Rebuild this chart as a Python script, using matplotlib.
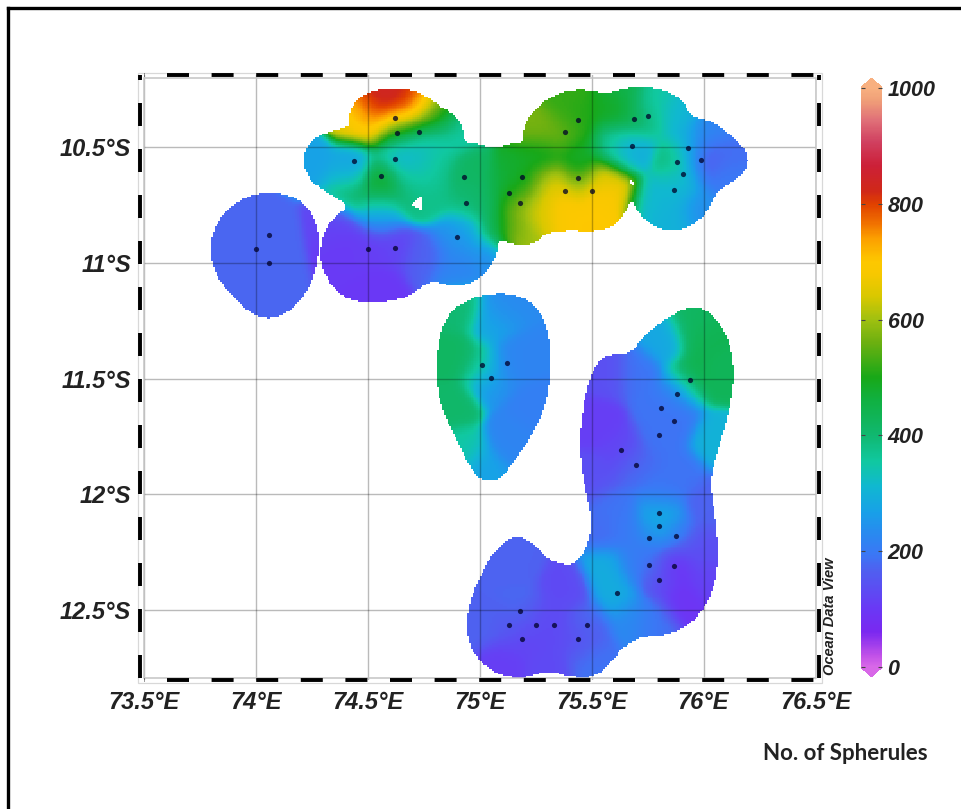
import numpy as np
import matplotlib
matplotlib.use('Agg')
import matplotlib.pyplot as plt
from matplotlib.colors import LinearSegmentedColormap
from matplotlib.lines import Line2D
from matplotlib.patches import Rectangle
from matplotlib.path import Path

plt.rcParams['lines.scale_dashes'] = False

# stations: lon, lat (deg S), no. of spherules
st_lon = [74.62, 74.63, 74.73, 74.44, 74.62, 74.56, 74.93, 74.94, 74.90, 74.50, 74.62,
          75.19, 75.13, 75.18, 75.38, 75.50, 75.44, 75.38, 75.44, 75.69, 75.75, 75.68,
          75.93, 75.88, 75.99, 75.91, 75.87, 74.00, 74.06, 74.06,
          75.01, 75.12, 75.05, 75.94, 75.88, 75.81, 75.87, 75.80, 75.63, 75.70,
          75.80, 75.80, 75.755, 75.875, 75.755, 75.87, 75.80, 75.615,
          75.18, 75.13, 75.25, 75.33, 75.48, 75.19, 75.44]
st_lat = [10.376, 10.44, 10.435, 10.56, 10.553, 10.624, 10.628, 10.743, 10.887, 10.94, 10.937,
          10.628, 10.70, 10.742, 10.69, 10.69, 10.633, 10.436, 10.382, 10.38, 10.367, 10.494,
          10.503, 10.563, 10.556, 10.615, 10.687, 10.94, 10.88, 11.00,
          11.443, 11.432, 11.497, 11.506, 11.566, 11.627, 11.684, 11.745, 11.81, 11.875,
          12.08, 12.135, 12.187, 12.18, 12.305, 12.311, 12.369, 12.427,
          12.506, 12.566, 12.563, 12.563, 12.563, 12.623, 12.626]
st_val = [830, 300, 330, 270, 300, 500, 420, 390, 230, 110, 120,
          480, 450, 620, 700, 700, 480, 560, 500, 470, 350, 280,
          290, 420, 130, 300, 310, 175, 175, 175,
          400, 220, 240, 450, 210, 190, 190, 190, 120, 180,
          270, 320, 200, 190, 190, 90, 130, 290,
          180, 160, 130, 130, 180, 120, 130]

# field values
map_lon = [74.62, 74.538, 74.70, 74.464, 74.427, 74.777, 74.82, 74.62, 74.88, 74.255,
           74.42, 74.687, 74.553, 74.553, 74.553, 74.36, 74.807, 74.73,
           74.40, 74.553, 74.747, 74.896, 75.03, 74.94, 75.06, 75.00,
           75.15, 75.195, 75.284, 75.374, 75.523, 75.612, 75.582, 75.30,
           75.269, 75.389, 75.597, 75.269, 75.448, 75.597, 75.776, 75.896, 75.657,
           76.09, 76.03, 76.09, 75.985, 75.866, 75.747, 75.657,
           74.882, 74.912, 74.882, 74.927, 75.016, 75.106, 75.18, 75.24, 75.135, 75.06,
           76.0, 76.075, 75.955, 75.82, 75.70, 75.568, 75.523, 75.523, 75.896, 76.045,
           76.015, 75.806, 75.985, 75.911, 75.777, 75.687, 75.568, 75.493, 75.30, 75.106,
           75.0, 75.15, 75.389, 76.015,
           74.55, 74.62, 74.68, 74.553, 74.688, 74.747, 74.479, 74.44, 74.524, 74.70, 74.79,
           74.80, 74.70, 75.65, 75.60, 75.55, 75.70,
           74.72, 74.40, 74.73, 74.80, 74.50, 74.67]
map_lat = [10.31, 10.311, 10.325, 10.34, 10.383, 10.326, 10.355, 10.405, 10.41, 10.556,
           10.70, 10.70, 10.72, 10.765, 10.80, 10.83, 10.585, 10.585,
           10.93, 11.103, 10.974, 11.03, 10.974, 10.858, 10.844, 10.74,
           10.844, 10.90, 10.80, 10.80, 10.80, 10.715, 10.643, 10.657,
           10.427, 10.311, 10.34, 10.542, 10.527, 10.484, 10.283, 10.354, 10.254,
           10.54, 10.427, 10.62, 10.772, 10.815, 10.743, 10.527,
           11.406, 11.204, 11.622, 11.809, 11.895, 11.204, 11.406, 11.622, 11.766, 11.262,
           11.334, 11.478, 11.262, 11.334, 11.478, 11.478, 11.694, 11.924, 11.91, 11.766,
           12.04, 11.982, 12.241, 12.457, 12.543, 12.529, 12.327, 12.702, 12.745, 12.73,
           12.558, 12.298, 12.414, 12.37,
           10.28, 10.27, 10.27, 10.355, 10.283, 10.311, 10.297, 10.355, 10.405, 10.405, 10.355,
           10.47, 10.50, 12.15, 12.05, 12.15, 12.30,
           10.63, 10.62, 10.70, 10.70, 10.37, 10.36]
map_val = [850, 850, 800, 760, 640, 600, 480, 480, 350, 270,
           420, 420, 500, 330, 170, 120, 370, 320,
           105, 100, 170, 220, 240, 280, 430, 420,
           560, 600, 640, 700, 700, 690, 650, 620,
           570, 520, 490, 480, 480, 380, 350, 310, 450,
           180, 220, 200, 240, 300, 310, 300,
           420, 400, 410, 350, 270, 230, 220, 210, 220, 280,
           440, 430, 420, 280, 190, 140, 110, 140, 190, 300,
           170, 190, 140, 90, 190, 230, 290, 190, 130, 110,
           170, 170, 130, 120,
           840, 850, 830, 840, 780, 740, 800, 650, 600, 470, 500,
           340, 310, 200, 190, 180, 210,
           340, 290, 360, 380, 790, 800]

# outlines of the gridded area
west_lon = [74.062, 74.151, 74.226, 74.270, 74.282, 74.270, 74.226, 74.151, 74.069,
            73.987, 73.913, 73.838, 73.801, 73.796, 73.823, 73.883, 73.972]
west_lat = [10.696, 10.707, 10.751, 10.823, 10.916, 11.031, 11.132, 11.211, 11.244,
            11.226, 11.161, 11.082, 10.995, 10.916, 10.83, 10.758, 10.707]
north_lon = [74.412, 74.419, 74.464, 74.538, 74.621, 74.703, 74.777, 74.837, 74.896, 74.926,
             74.926, 75.001, 75.060, 75.150, 75.195, 75.195, 75.254, 75.344, 75.433, 75.508,
             75.560, 75.642, 75.747, 75.851, 75.918, 75.940, 76.030, 76.104, 76.172, 76.201,
             76.186, 76.119, 76.052, 76.015, 75.940, 75.866, 75.776, 75.709, 75.679, 75.657,
             75.605, 75.508, 75.389, 75.299, 75.254, 75.195, 75.120, 75.083, 75.075, 75.016,
             74.926, 74.852, 74.777, 74.688, 74.583, 74.494, 74.397, 74.330, 74.292, 74.288,
             74.315, 74.367, 74.419, 74.330, 74.255, 74.218, 74.210, 74.240, 74.300, 74.412]
north_lat = [10.405, 10.340, 10.283, 10.251, 10.247, 10.254, 10.290, 10.333, 10.369, 10.419,
             10.477, 10.487, 10.506, 10.481, 10.484, 10.405, 10.326, 10.268, 10.251, 10.257,
             10.271, 10.247, 10.239, 10.261, 10.311, 10.369, 10.383, 10.434, 10.491, 10.549,
             10.607, 10.657, 10.700, 10.787, 10.844, 10.866, 10.844, 10.787, 10.722, 10.772,
             10.844, 10.866, 10.859, 10.873, 10.909, 10.928, 10.909, 10.902, 10.974, 11.060,
             11.103, 11.096, 11.075, 11.147, 11.168, 11.175, 11.154, 11.089, 11.017, 10.931,
             10.844, 10.787, 10.755, 10.703, 10.657, 10.599, 10.542, 10.477, 10.441, 10.412]
oval_lon = [75.120, 75.210, 75.277, 75.311, 75.314, 75.307, 75.270, 75.210, 75.135, 75.091,
            75.001, 74.956, 74.897, 74.837, 74.807, 74.807, 74.830, 74.882, 74.971, 75.046]
oval_lat = [11.132, 11.154, 11.218, 11.319, 11.449, 11.564, 11.679, 11.780, 11.881, 11.938,
            11.941, 11.881, 11.766, 11.650, 11.535, 11.391, 11.276, 11.197, 11.149, 11.135]
south_lon = [75.941, 76.030, 76.097, 76.132, 76.135, 76.105, 76.068, 76.027, 76.045, 76.060,
             76.064, 76.053, 76.000, 75.926, 75.836, 75.717, 75.642, 75.583, 75.508, 75.389,
             75.307, 75.210, 75.106, 75.016, 74.949, 74.942, 74.979, 75.038, 75.106, 75.173,
             75.240, 75.299, 75.374, 75.434, 75.486, 75.501, 75.478, 75.456, 75.446, 75.464,
             75.493, 75.538, 75.598, 75.672, 75.732, 75.821]
south_lat = [11.183, 11.211, 11.298, 11.406, 11.535, 11.679, 11.794, 11.938, 12.054, 12.169,
             12.270, 12.385, 12.500, 12.572, 12.608, 12.615, 12.658, 12.730, 12.795, 12.788,
             12.759, 12.795, 12.788, 12.738, 12.651, 12.514, 12.399, 12.284, 12.205, 12.180,
             12.212, 12.277, 12.306, 12.298, 12.212, 12.111, 12.010, 11.895, 11.766, 11.607,
             11.492, 11.413, 11.394, 11.394, 11.319, 11.247]
hole1_lon = [74.744, 74.695, 74.740]
hole1_lat = [10.707, 10.751, 10.772]
hole2_lon = [75.672, 75.691, 75.679]
hole2_lat = [10.643, 10.657, 10.674]

lon_ticks = [73.5, 74, 74.5, 75, 75.5, 76, 76.5]
lon_labels = ['73.5°E', '74°E', '74.5°E', '75°E', '75.5°E', '76°E', '76.5°E']
lat_ticks = [10.5, 11, 11.5, 12, 12.5]
lat_labels = ['10.5°S', '11°S', '11.5°S', '12°S', '12.5°S']
cbar_ticks = [0, 200, 400, 600, 800, 1000]

# colour bar stops, value / colour
cm_vals = [0, 20, 60, 100, 167, 195, 228, 267, 312, 355, 400, 462, 500, 562, 600, 640,
           680, 700, 740, 767, 800, 822, 867, 907, 945, 980, 1000]
cm_cols = ['#d868e8', '#c050e8', '#7a28f0', '#6a38f5', '#4f60f0', '#3a78f5', '#2a88f0',
           '#18a0e8', '#10b8d0', '#10c8a0', '#10b870', '#10b040', '#18a818', '#6eb010',
           '#a0c010', '#d8c800', '#f8c800', '#fdc800', '#fca000', '#f07000', '#e04000',
           '#d02818', '#cc2038', '#d04060', '#e07078', '#f0a078', '#f8b080']


def smooth(xs, ys, n=3):
    # corner cutting so the hand read outlines are not angular
    p = np.column_stack([xs, ys])
    for i in range(n):
        q = np.roll(p, -1, axis=0)
        p = np.column_stack([0.75 * p + 0.25 * q, 0.25 * p + 0.75 * q]).reshape(-1, 2)
    return Path(p)


W, H = 961., 809.
fig = plt.figure(figsize=(9.61, 8.09), dpi=100, facecolor='white')
ax = fig.add_axes([144 / W, 1 - 680 / H, 671.5 / W, 605 / H])

# gridding
glon = np.arange(73.5, 76.5, 0.008)
glat = np.arange(10.19, 12.80, 0.008)
X, Y = np.meshgrid(glon, glat)
all_lon = np.array(st_lon + map_lon)
all_lat = np.array(st_lat + map_lat)
all_val = np.array(st_val + map_val, dtype=float)
d2 = (X[..., None] - all_lon) ** 2 + (Y[..., None] - all_lat) ** 2
w = np.exp(-d2 / (2 * 0.055 ** 2)) + 1e-14
Z = (w * all_val).sum(axis=-1) / w.sum(axis=-1)

pts = np.column_stack([X.ravel(), Y.ravel()])
inside = np.zeros(len(pts), dtype=bool)
for xs, ys in [(west_lon, west_lat), (north_lon, north_lat), (oval_lon, oval_lat), (south_lon, south_lat)]:
    inside |= smooth(xs, ys).contains_points(pts)
for xs, ys in [(hole1_lon, hole1_lat), (hole2_lon, hole2_lat)]:
    inside &= ~Path(np.column_stack([xs, ys])).contains_points(pts)
Z = np.ma.masked_where(~inside.reshape(X.shape), Z)

cmap = LinearSegmentedColormap.from_list('odv', [(v / 1000., c) for v, c in zip(cm_vals, cm_cols)], N=512)
cmap.set_under(cm_cols[0])
cmap.set_over(cm_cols[-1])
pc = ax.pcolormesh(glon, glat, Z, cmap=cmap, vmin=0, vmax=1000, shading='nearest', zorder=1, rasterized=True)

ax.set_xlim(73.5, 76.5)
ax.set_ylim(12.802, 10.189)
ax.scatter(st_lon, st_lat, s=14, color='#000028', alpha=0.75, linewidths=0, zorder=3)

# light double frame + thick dashed one
iy = 2.5 / 605.
ax.add_patch(Rectangle((0, iy), 1, 1 - 2 * iy, transform=ax.transAxes, fill=False, ec='#c4c4c4', lw=1.1, zorder=4, clip_on=False))
ox, oy = 6 / 671.5, 2.5 / 605.
ax.add_patch(Rectangle((-ox, -oy), 1 + 2 * ox, 1 + 2 * oy, transform=ax.transAxes, fill=False, ec='#d8d8d8', lw=0.9, zorder=4, clip_on=False))
for side, spine in ax.spines.items():
    spine.set_linewidth(2.8)
    spine.set_capstyle('butt')
    spine.set_color('black')
    spine.set_zorder(5)
    if side in ('top', 'bottom'):
        spine.set_position(('outward', 0))
        spine.set_linestyle((21.6 * 0.72, (22 * 0.72, 22.6 * 0.72)))
    else:
        spine.set_position(('outward', 2.7))
        spine.set_linestyle((44 * 0.72, (23 * 0.72, 23 * 0.72)))

# set_position resets the ticks, so ticks come after the spines
font = dict(family='Liberation Sans', weight='bold', style='italic', color='#222222')
ax.set_xticks(lon_ticks, lon_labels, fontsize=17, **font)
ax.set_yticks(lat_ticks, lat_labels, fontsize=17, **font)
ax.tick_params(axis='x', length=0, pad=8)
ax.tick_params(axis='y', length=0, pad=6.5)
ax.grid(True, color='black', alpha=0.27, lw=1.0, zorder=2)
ax.set_axisbelow(False)

# colour bar
cax = fig.add_axes([861 / W, 1 - 677 / H, 21 / W, 599 / H])
cb = fig.colorbar(pc, cax=cax, extend='both', extendfrac=0.0167, ticks=cbar_ticks)
cb.outline.set_visible(False)
cax.tick_params(axis='y', direction='in', length=3, width=0.8, color='#444444', left=True, right=True, pad=4)
cax.set_yticks(cbar_ticks, [str(v) for v in cbar_ticks], fontsize=15.5, **font)

fig.text(830 / W, 1 - 616 / H, 'Ocean Data View', rotation=90, ha='center', va='center', fontsize=10.5, **font)
fig.text(845.5 / W, 1 - 753 / H, 'No. of Spherules', ha='center', va='center', fontsize=16,
         family='Lato', weight='bold', color='#222222')

fig.add_artist(Line2D([8 / W, 1], [1 - 8 / H, 1 - 8 / H], color='black', lw=2.4, transform=fig.transFigure))
fig.add_artist(Line2D([8 / W, 8 / W], [1 - 8 / H, 0], color='black', lw=2.4, transform=fig.transFigure))

fig.savefig('out.png', dpi=100)
plt.close(fig)
